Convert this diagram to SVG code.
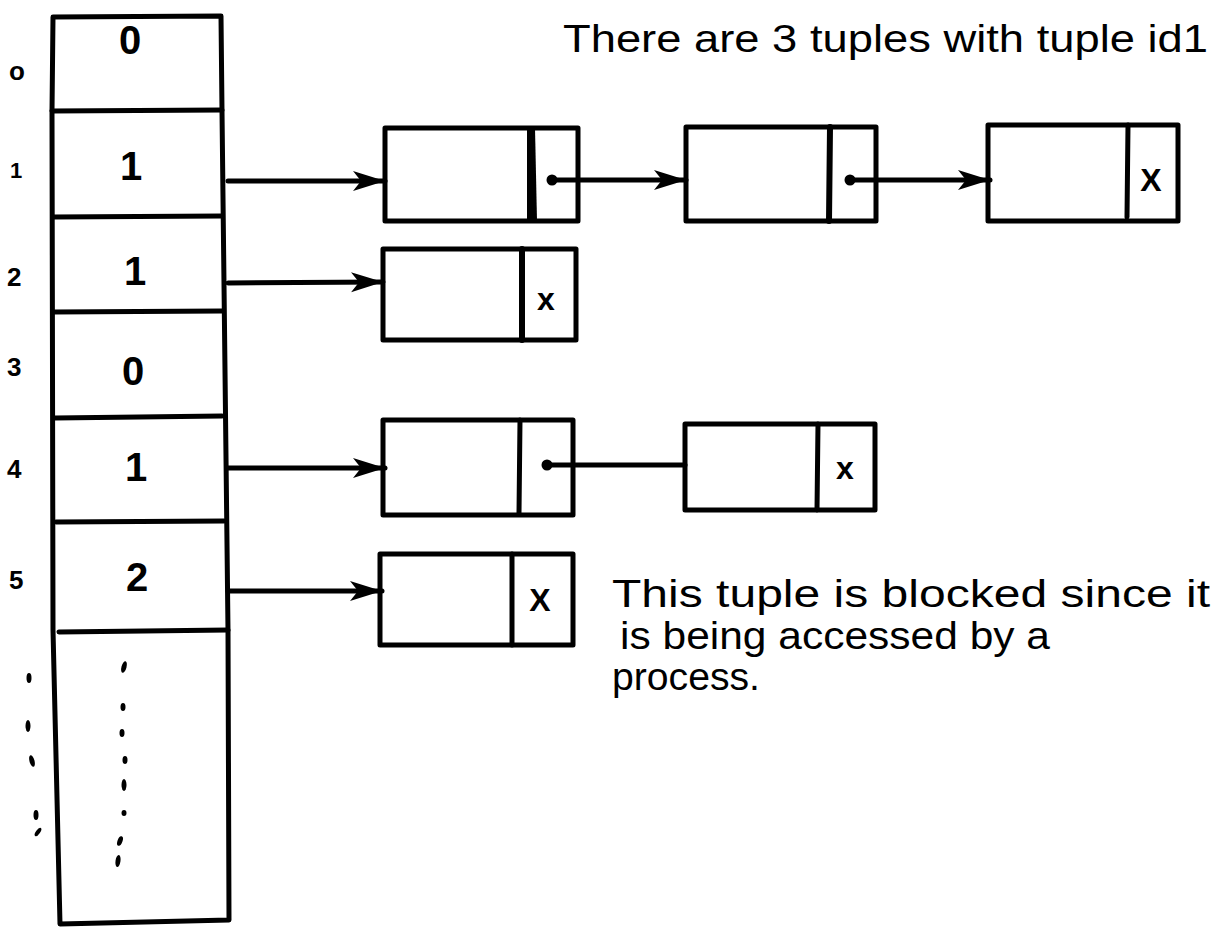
<svg xmlns="http://www.w3.org/2000/svg" width="1217" height="932" viewBox="0 0 1217 932">
<defs>
<style>
.ln{fill:none;stroke:#000;stroke-width:5;stroke-linecap:round;stroke-linejoin:round}
.lbl{font-family:"Liberation Sans",Arial,sans-serif;font-weight:bold;font-size:26px;fill:#000}
.val{font-family:"Liberation Sans",Arial,sans-serif;font-weight:bold;font-size:40px;fill:#000;text-anchor:middle}
.x{font-family:"Liberation Sans",Arial,sans-serif;font-weight:bold;font-size:32px;fill:#000;text-anchor:middle}
.note{font-family:"Liberation Sans",Arial,sans-serif;font-size:38px;fill:#000}
</style>
<marker id="ah" markerWidth="34" markerHeight="22" refX="32" refY="11" orient="auto" markerUnits="userSpaceOnUse">
<path d="M0,1 L32,11 L0,21 L8,11 Z" fill="#000"/>
</marker>
</defs>
<g id="table">
<path class="ln" d="M53,17 L221,16 L222,111 L228,630 L229,920 L60,924 L53,630 L52,111 Z"/>
<path class="ln" d="M52,111 L222,110"/>
<path class="ln" d="M53,217 L222,216"/>
<path class="ln" d="M54,312 L222,311"/>
<path class="ln" d="M55,418 L222,416"/>
<path class="ln" d="M56,522 L224,521"/>
<path class="ln" d="M59,632 L228,630"/>
<text class="val" x="130" y="54">0</text>
<text class="val" x="131" y="180">1</text>
<text class="val" x="135" y="285">1</text>
<text class="val" x="133" y="385">0</text>
<text class="val" x="136" y="481">1</text>
<text class="val" x="137" y="591">2</text>
<g fill="#000">
<ellipse cx="124" cy="667" rx="2.5" ry="6" transform="rotate(15 124 667)"/>
<ellipse cx="123" cy="707" rx="2.5" ry="4"/>
<ellipse cx="122" cy="733" rx="2.5" ry="4"/>
<ellipse cx="125" cy="760" rx="2.5" ry="4"/>
<ellipse cx="124" cy="785" rx="2.5" ry="6"/>
<ellipse cx="124" cy="813" rx="2.5" ry="3"/>
<ellipse cx="120" cy="841" rx="2.5" ry="5" transform="rotate(20 120 841)"/>
<ellipse cx="118" cy="861" rx="2.5" ry="6" transform="rotate(8 118 861)"/>
</g>
</g>
<g id="indices">
<text class="lbl" x="9" y="80">o</text>
<text class="lbl" x="10" y="178" style="font-size:22px">1</text>
<text class="lbl" x="7" y="286">2</text>
<text class="lbl" x="7" y="376">3</text>
<text class="lbl" x="7" y="478">4</text>
<text class="lbl" x="9" y="589">5</text>
<g fill="#000">
<ellipse cx="29" cy="678" rx="2.5" ry="5"/>
<ellipse cx="28" cy="726" rx="2.5" ry="6"/>
<ellipse cx="32" cy="761" rx="2.5" ry="6" transform="rotate(-15 32 761)"/>
<ellipse cx="36" cy="815" rx="2.5" ry="5"/>
<ellipse cx="38" cy="832" rx="2" ry="5" transform="rotate(35 38 832)"/>
</g>
</g>
<g id="node-1a">
<rect class="ln" x="385" y="128" width="193" height="93"/>
<path d="M527,128 L535,128 L537,221 L527,221 Z" fill="#000"/>
<circle cx="552" cy="180" r="5.5" fill="#000"/>
</g>
<g id="node-1b">
<rect class="ln" x="686" y="127" width="190" height="94"/>
<path class="ln" style="stroke-width:6" d="M830,127 L829,221"/>
<circle cx="850" cy="180" r="5.5" fill="#000"/>
</g>
<g id="node-1c">
<rect class="ln" x="988" y="125" width="190" height="96"/>
<path class="ln" d="M1128,125 L1127,217"/>
<text class="x" x="1151" y="191">X</text>
</g>
<g id="node-2">
<rect class="ln" x="383" y="249" width="193" height="91"/>
<path class="ln" style="stroke-width:6" d="M522,249 L522,340"/>
<text class="x" x="546" y="310">x</text>
</g>
<g id="node-4a">
<rect class="ln" x="383" y="420" width="190" height="95"/>
<path class="ln" d="M520,420 L519,513"/>
<circle cx="547" cy="465" r="5.5" fill="#000"/>
</g>
<g id="node-4b">
<rect class="ln" x="685" y="424" width="190" height="86"/>
<path class="ln" d="M818,424 L817,510"/>
<text class="x" x="845" y="479">x</text>
</g>
<g id="node-5">
<rect class="ln" x="380" y="554" width="193" height="91"/>
<path class="ln" d="M512,554 L512,645"/>
<text class="x" x="540" y="611">X</text>
</g>
<g id="connectors">
<path class="ln" d="M228,181 L385,181" marker-end="url(#ah)"/>
<path class="ln" d="M552,180 L686,180" marker-end="url(#ah)"/>
<path class="ln" d="M850,180 L990,180" marker-end="url(#ah)"/>
<path class="ln" d="M228,283 L383,282" marker-end="url(#ah)"/>
<path class="ln" d="M228,468 L385,468" marker-end="url(#ah)"/>
<path class="ln" d="M547,465 L685,465"/>
<path class="ln" d="M228,591 L382,591" marker-end="url(#ah)"/>
</g>
<g id="notes">
<text class="note" x="563" y="52" textLength="645" lengthAdjust="spacingAndGlyphs">There are 3 tuples with tuple id1</text>
<text class="note" x="612" y="607" textLength="598" lengthAdjust="spacingAndGlyphs">This tuple is blocked since it</text>
<text class="note" x="620" y="649" textLength="430" lengthAdjust="spacingAndGlyphs">is being accessed by a</text>
<text class="note" x="612" y="690" textLength="148" lengthAdjust="spacingAndGlyphs">process.</text>
</g>
</svg>
